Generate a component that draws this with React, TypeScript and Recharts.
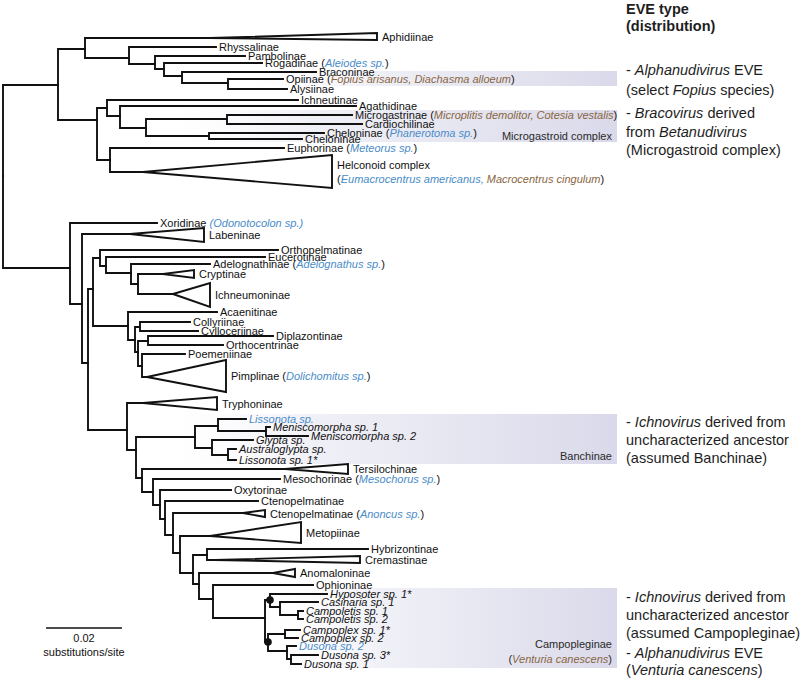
import React from "react";
import { ComposedChart, XAxis, YAxis, Line, Scatter, ReferenceArea } from "recharts";

const FONT = "'Liberation Sans', Arial, Helvetica, sans-serif";
const BLUE = "#4a8cc8";
const BROWN = "#8a6642";
const INK = "#111111";

// tree nodes: [id, parent, depth, row]
type NodeRow = [string, string | null, number, number];

const braconidNodes: NodeRow[] = [
  ["root", null, 3, 176],
  ["brac", "root", 58, 85],
  ["A", "brac", 85, 49],
  ["aphid", "A", 210, 38],
  ["C1", "A", 129, 58],
  ["rhys", "C1", 216, 47],
  ["C2", "C1", 155, 64],
  ["pamb", "C2", 245, 56],
  ["C3", "C2", 164, 69],
  ["roga", "C3", 262, 63],
  ["C4", "C3", 182, 76],
  ["bracon", "C4", 316, 72],
  ["C5", "C4", 228, 83],
  ["opii", "C5", 283, 79],
  ["alys", "C5", 287, 89],
  ["B", "brac", 97, 120],
  ["E", "B", 107, 108],
  ["ichneut", "E", 298, 100],
  ["F", "E", 120, 116],
  ["agath", "F", 356, 106],
  ["G", "F", 146, 128],
  ["H", "G", 227, 119],
  ["micro", "H", 352, 115],
  ["cardio", "H", 362, 124],
  ["I", "G", 209, 136],
  ["chel1", "I", 324, 133],
  ["chel2", "I", 302, 139],
  ["D", "B", 110, 160],
  ["euph", "D", 284, 148],
  ["helc", "D", 143, 172],
];

const ichneumonidNodes: NodeRow[] = [
  ["J", "root", 70, 268],
  ["xori", "J", 157, 223],
  ["K", "J", 82, 304],
  ["laben", "K", 130, 234],
  ["L", "K", 88, 363],
  ["M", "L", 93, 289],
  ["N", "M", 100, 258],
  ["ortho", "N", 278, 250],
  ["O", "N", 106, 266],
  ["euce", "O", 265, 257],
  ["P", "O", 131, 273],
  ["adelo", "P", 210, 264],
  ["Q", "P", 138, 284],
  ["crypt", "Q", 163, 274],
  ["ichneu", "Q", 173, 294],
  ["R", "M", 128, 326],
  ["acaen", "R", 217, 312],
  ["S", "R", 135, 340],
  ["T", "S", 140, 327],
  ["colly", "T", 190, 322],
  ["cyllo", "T", 198, 331],
  ["U", "S", 138, 352],
  ["V", "U", 148, 341],
  ["dipla", "V", 273, 336],
  ["orthoc", "V", 223, 345],
  ["W", "U", 142, 366],
  ["poem", "W", 185, 354],
  ["pimp", "W", 147, 377],
  ["X", "L", 127, 430],
  ["tryph", "X", 143, 403],
  ["Y", "X", 136, 450],
];

const banchineNodes: NodeRow[] = [
  ["Z", "Y", 195, 437],
  ["Z1", "Z", 218, 426],
  ["lisso", "Z1", 246, 419],
  ["Z2", "Z1", 266, 431],
  ["menis1", "Z2", 270, 427],
  ["menis2", "Z2", 308, 436],
  ["Z3", "Z", 212, 448],
  ["glypta", "Z3", 253, 440],
  ["Z4", "Z3", 228, 455],
  ["austr", "Z4", 236, 449],
  ["lisso1", "Z4", 236, 460],
];

const lowerNodes: NodeRow[] = [
  ["AA", "Y", 142, 478],
  ["tersi", "AA", 285, 469],
  ["AB", "AA", 153, 492],
  ["meso", "AB", 280, 479],
  ["AC", "AB", 160, 505],
  ["oxyt", "AC", 231, 490],
  ["AD", "AC", 165, 519],
  ["cten1", "AD", 258, 501],
  ["AE", "AD", 173, 535],
  ["cten2", "AE", 243, 513],
  ["AF", "AE", 180, 553],
  ["metop", "AF", 210, 536],
  ["AG", "AF", 193, 573],
  ["AH", "AG", 207, 555],
  ["hybri", "AH", 368, 549],
  ["crem", "AH", 215, 560],
  ["AI", "AG", 199, 584],
  ["anom", "AI", 273, 573],
  ["AJ", "AI", 213, 599],
  ["ophio", "AJ", 313, 585],
];

const campoplegineNodes: NodeRow[] = [
  ["AK", "AJ", 265, 618],
  ["dot1", "AK", 270, 600],
  ["hypo", "dot1", 327, 594],
  ["CC", "dot1", 280, 607],
  ["casin", "CC", 318, 602],
  ["CL", "CC", 298, 615],
  ["camplt1", "CL", 303, 611],
  ["camplt2", "CL", 303, 619],
  ["dot2", "AK", 268, 642],
  ["CP", "dot2", 285, 634],
  ["cpx1", "CP", 300, 630],
  ["cpx2", "CP", 298, 638],
  ["DU", "dot2", 287, 651],
  ["dus2", "DU", 296, 646],
  ["DD", "DU", 291, 659],
  ["dus3", "DD", 318, 655],
  ["dus1", "DD", 301, 664],
];

// collapsed clades: [id, right depth, top row, bottom row]
const collapsedClades: [string, number, number, number][] = [
  ["aphid", 377, 33, 40],
  ["helc", 332, 155, 188],
  ["laben", 204, 228, 242],
  ["crypt", 194, 270, 278],
  ["ichneu", 210, 283, 307],
  ["pimp", 226, 360, 392],
  ["tryph", 217, 397, 410],
  ["tersi", 348, 464, 474],
  ["cten2", 265, 510, 517],
  ["metop", 301, 522, 543],
  ["crem", 360, 556, 563],
  ["anom", 295, 569, 577],
];

// {b:..} blue italic, {r:..} brown italic, {i:..} italic, {B:..} bold
const leafLabels: [string, string][] = [
  ["aphid", "Aphidiinae"],
  ["rhys", "Rhyssalinae"],
  ["pamb", "Pambolinae"],
  ["roga", "Rogadinae ({b:Aleiodes sp.})"],
  ["bracon", "Braconinae"],
  ["opii", "Opiinae ({r:Fopius arisanus, Diachasma alloeum})"],
  ["alys", "Alysiinae"],
  ["ichneut", "Ichneutinae"],
  ["agath", "Agathidinae"],
  ["micro", "Microgastrinae ({r:Microplitis demolitor, Cotesia vestalis})"],
  ["cardio", "Cardiochilinae"],
  ["chel1", "Cheloninae ({b:Phanerotoma sp.})"],
  ["chel2", "Cheloninae"],
  ["euph", "Euphorinae ({b:Meteorus sp.})"],
  ["helc", "Helconoid complex\n({b:Eumacrocentrus americanus,}{r: Macrocentrus cingulum})"],
  ["xori", "Xoridinae {b:(Odonotocolon sp.)}"],
  ["laben", "Labeninae"],
  ["ortho", "Orthopelmatinae"],
  ["euce", "Eucerotinae"],
  ["adelo", "Adelognathinae ({b:Adelognathus sp.})"],
  ["crypt", "Cryptinae"],
  ["ichneu", "Ichneumoninae"],
  ["acaen", "Acaenitinae"],
  ["colly", "Collyriinae"],
  ["cyllo", "Cylloceriinae"],
  ["dipla", "Diplazontinae"],
  ["orthoc", "Orthocentrinae"],
  ["poem", "Poemeniinae"],
  ["pimp", "Pimplinae ({b:Dolichomitus sp.})"],
  ["tryph", "Tryphoninae"],
  ["lisso", "{b:Lissonota sp.}"],
  ["menis1", "{i:Meniscomorpha sp. 1}"],
  ["menis2", "{i:Meniscomorpha sp. 2}"],
  ["glypta", "{i:Glypta sp.}"],
  ["austr", "{i:Australoglypta sp.}"],
  ["lisso1", "{i:Lissonota sp. 1*}"],
  ["tersi", "Tersilochinae"],
  ["meso", "Mesochorinae ({b:Mesochorus sp.})"],
  ["oxyt", "Oxytorinae"],
  ["cten1", "Ctenopelmatinae"],
  ["cten2", "Ctenopelmatinae ({b:Anoncus sp.})"],
  ["metop", "Metopiinae"],
  ["hybri", "Hybrizontinae"],
  ["crem", "Cremastinae"],
  ["anom", "Anomaloninae"],
  ["ophio", "Ophioninae"],
  ["hypo", "{i:Hyposoter sp. 1*}"],
  ["casin", "{i:Casinaria sp. 1}"],
  ["camplt1", "{i:Campoletis sp. 1}"],
  ["camplt2", "{i:Campoletis sp. 2}"],
  ["cpx1", "{i:Campoplex sp. 1*}"],
  ["cpx2", "{i:Campoplex sp. 2}"],
  ["dus2", "{b:Dusona sp. 2}"],
  ["dus3", "{i:Dusona sp. 3*}"],
  ["dus1", "{i:Dusona sp. 1}"],
];

const supportedNodes = ["dot1", "dot2"];

// shaded groups: [from depth, to depth, top row, bottom row, label, label row]
const highlightBands: [number, number, number, number, string, number][] = [
  [230, 617, 71, 86, "", 0],
  [150, 617, 110, 142, "Microgastroid complex", 136],
  [150, 617, 414, 464, "Banchinae", 456],
  [255, 617, 588, 668, "Campopleginae\n({r:Venturia canescens})", 652],
];

// EVE notes: [row, text]
const noteLines: [number, string][] = [
  [9, "{B:EVE type}"],
  [26, "{B:(distribution)}"],
  [70, "- {i:Alphanudivirus} EVE"],
  [90, "(select {i:Fopius} species)"],
  [113, "- {i:Bracovirus} derived"],
  [131.5, "from {i:Betanudivirus}"],
  [150, "(Microgastroid complex)"],
  [422, "- {i:Ichnovirus} derived from"],
  [440, "uncharacterized ancestor"],
  [458, "(assumed Banchinae)"],
  [597, "- {i:Ichnovirus} derived from"],
  [615, "uncharacterized ancestor"],
  [633, "(assumed Campopleginae)"],
  [653, "- {i:Alphanudivirus} EVE"],
  [670, "({i:Venturia canescens})"],
];

const SCALE_VALUE = 0.02;
const DEPTH_PER_SUBST = 3800;
const scaleBarStart = 46;
const scaleBarRow = 628;

const allNodes = [
  ...braconidNodes,
  ...ichneumonidNodes,
  ...banchineNodes,
  ...lowerNodes,
  ...campoplegineNodes,
];
const nodeById = new Map(allNodes.map((n) => [n[0], { x: n[2], y: n[3] }]));
const wedgeById = new Map(collapsedClades.map((c) => [c[0], c]));

const branchPaths = allNodes
  .filter((n) => n[1] !== null)
  .map(([, parent, x, y]) => {
    const p = nodeById.get(parent as string)!;
    return [
      { x: p.x, y: p.y },
      { x: p.x, y },
      { x, y },
    ];
  });

const wedgePaths = collapsedClades.map(([id, right, top, bottom]) => {
  const n = nodeById.get(id)!;
  return [
    { x: n.x, y: n.y },
    { x: right, y: top },
    { x: right, y: bottom },
    { x: n.x, y: n.y },
  ];
});

const labelPoints = leafLabels.map(([id, text]) => {
  const n = nodeById.get(id)!;
  const w = wedgeById.get(id);
  const y = w ? (w[2] + w[3]) / 2 + 0.5 : n.y;
  return { x: w ? w[1] + 5 : n.x + 3, y, text };
});

const bandLabelPoints = highlightBands
  .filter((b) => b[4])
  .map((b) => ({ x: b[1] - 5, y: b[5], text: b[4] }));

const notePoints = noteLines.map(([y, text]) => ({ x: 626, y, text }));
const dotPoints = supportedNodes.map((id) => nodeById.get(id)!);

const scaleEnd = scaleBarStart + SCALE_VALUE * DEPTH_PER_SUBST;
const scaleBarPath = [
  { x: scaleBarStart, y: scaleBarRow },
  { x: scaleEnd, y: scaleBarRow },
];
const scaleTextPoints = [
  { x: (scaleBarStart + scaleEnd) / 2, y: scaleBarRow + 10, text: String(SCALE_VALUE) },
  { x: (scaleBarStart + scaleEnd) / 2, y: scaleBarRow + 24, text: "substitutions/site" },
];

function parseRich(line: string) {
  const parts: { t: string; k: string }[] = [];
  const re = /\{([briB]):([^}]*)\}/g;
  let last = 0;
  let m: RegExpExecArray | null;
  while ((m = re.exec(line))) {
    if (m.index > last) parts.push({ t: line.slice(last, m.index), k: "" });
    parts.push({ t: m[2], k: m[1] });
    last = m.index + m[0].length;
  }
  if (last < line.length) parts.push({ t: line.slice(last), k: "" });
  return parts;
}

function richText(
  cx: number,
  cy: number,
  text: string,
  size: number,
  anchor: "start" | "middle" | "end",
  color: string,
  lineHeight: number
) {
  const lines = text.split("\n");
  const y0 = cy - ((lines.length - 1) * lineHeight) / 2;
  return (
    <text x={cx} y={y0} fontSize={size} fontFamily={FONT} fill={color} textAnchor={anchor}>
      {lines.map((ln, i) => (
        <tspan key={i} x={cx} dy={i === 0 ? "0.35em" : lineHeight}>
          {parseRich(ln).map((p, j) => (
            <tspan
              key={j}
              fill={p.k === "b" ? BLUE : p.k === "r" ? BROWN : undefined}
              fontStyle={p.k === "b" || p.k === "r" || p.k === "i" ? "italic" : undefined}
              fontWeight={p.k === "B" ? "bold" : undefined}
            >
              {p.t}
            </tspan>
          ))}
        </tspan>
      ))}
    </text>
  );
}

const LeafLabel = (props: any) => richText(props.cx, props.cy, props.payload.text, 11, "start", INK, 14);
const BandLabel = (props: any) => richText(props.cx, props.cy, props.payload.text, 11, "end", "#2a2a2a", 15);
const NoteLabel = (props: any) => richText(props.cx, props.cy, props.payload.text, 14.5, "start", "#1e1e1e", 18);
const ScaleLabel = (props: any) => richText(props.cx, props.cy, props.payload.text, 11, "middle", INK, 14);
const NodeDot = (props: any) => <circle cx={props.cx} cy={props.cy} r={3.8} fill={INK} />;

export default function App() {
  return (
    <div style={{ position: "absolute", left: 0, top: 0, width: 800, height: 679, background: "#fff" }}>
      <ComposedChart width={800} height={679} margin={{ top: 0, right: 0, bottom: 0, left: 0 }}>
        <defs>
          <linearGradient id="bandFill" x1="0" y1="0" x2="1" y2="0">
            <stop offset="0%" stopColor="#ffffff" stopOpacity={0} />
            <stop offset="35%" stopColor="#ececf5" stopOpacity={0.8} />
            <stop offset="100%" stopColor="#d9d9ea" stopOpacity={1} />
          </linearGradient>
        </defs>
        <XAxis type="number" dataKey="x" domain={[0, 800]} hide allowDataOverflow />
        <YAxis type="number" dataKey="y" domain={[0, 679]} reversed hide allowDataOverflow />
        {highlightBands.map((b, i) => (
          <ReferenceArea
            key={`band-${i}`}
            x1={b[0]}
            x2={b[1]}
            y1={b[2]}
            y2={b[3]}
            fill="url(#bandFill)"
            fillOpacity={1}
            stroke="none"
            ifOverflow="visible"
          />
        ))}
        {branchPaths.map((d, i) => (
          <Line
            key={`br-${i}`}
            data={d}
            dataKey="y"
            type="linear"
            stroke={INK}
            strokeWidth={1.9}
            strokeLinecap="square"
            dot={false}
            activeDot={false}
            legendType="none"
            isAnimationActive={false}
          />
        ))}
        {wedgePaths.map((d, i) => (
          <Line
            key={`wd-${i}`}
            data={d}
            dataKey="y"
            type="linear"
            stroke={INK}
            strokeWidth={1.9}
            strokeLinejoin="miter"
            dot={false}
            activeDot={false}
            legendType="none"
            isAnimationActive={false}
          />
        ))}
        <Line
          data={scaleBarPath}
          dataKey="y"
          type="linear"
          stroke={INK}
          strokeWidth={1.5}
          dot={false}
          activeDot={false}
          legendType="none"
          isAnimationActive={false}
        />
        <Scatter data={dotPoints} shape={NodeDot} isAnimationActive={false} />
        <Scatter data={labelPoints} shape={LeafLabel} isAnimationActive={false} />
        <Scatter data={bandLabelPoints} shape={BandLabel} isAnimationActive={false} />
        <Scatter data={notePoints} shape={NoteLabel} isAnimationActive={false} />
        <Scatter data={scaleTextPoints} shape={ScaleLabel} isAnimationActive={false} />
      </ComposedChart>
    </div>
  );
}
